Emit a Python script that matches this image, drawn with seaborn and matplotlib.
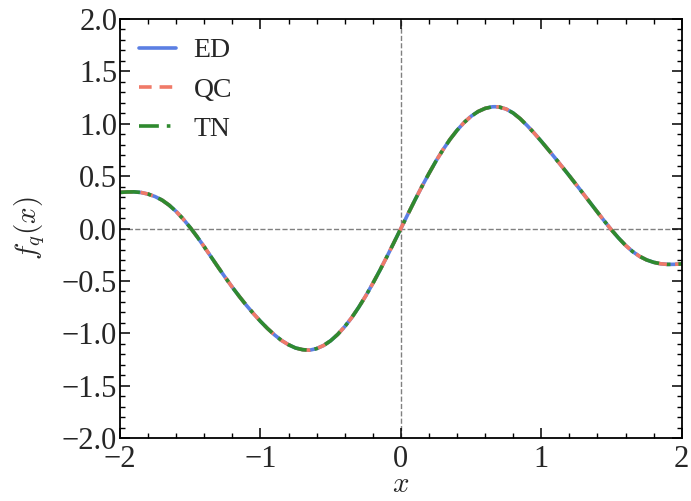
import numpy as np
import pandas as pd
import matplotlib
matplotlib.use("Agg")
import matplotlib.pyplot as plt
import seaborn as sns

# values
x_vals = [-2.0, -1.95, -1.9, -1.85, -1.8, -1.75, -1.7, -1.65, -1.6, -1.55, -1.5, -1.45,
          -1.4, -1.35, -1.3, -1.25, -1.2, -1.15, -1.1, -1.05, -1.0, -0.95, -0.9, -0.85,
          -0.8, -0.75, -0.7, -0.65, -0.6, -0.55, -0.5, -0.45, -0.4, -0.35, -0.3, -0.25,
          -0.2, -0.15, -0.1, -0.05, 0.0,
          0.05, 0.1, 0.15, 0.2, 0.25, 0.3, 0.35, 0.4, 0.45, 0.5, 0.55, 0.6, 0.65, 0.67,
          0.7, 0.75, 0.8, 0.85, 0.9, 0.95, 1.0, 1.05, 1.1, 1.15, 1.2, 1.25, 1.3, 1.35,
          1.4, 1.45, 1.5, 1.55, 1.6, 1.65, 1.7, 1.75, 1.8, 1.85, 1.9, 1.95, 2.0]
f_vals = [0.344, 0.348, 0.349, 0.343, 0.328, 0.304, 0.270, 0.222, 0.162, 0.090, 0.009, -0.080,
          -0.175, -0.273, -0.371, -0.467, -0.560, -0.648, -0.732, -0.810, -0.884, -0.952, -1.013, -1.066,
          -1.107, -1.138, -1.154, -1.159, -1.144, -1.114, -1.069, -1.009, -0.935, -0.849, -0.750, -0.642,
          -0.524, -0.400, -0.270, -0.136, 0.0,
          0.136, 0.270, 0.400, 0.524, 0.642, 0.750, 0.849, 0.935, 1.009, 1.069, 1.114, 1.144, 1.159, 1.160,
          1.157, 1.138, 1.100, 1.046, 0.980, 0.908, 0.831, 0.751, 0.669, 0.586, 0.502, 0.416, 0.330, 0.243,
          0.156, 0.070, -0.013, -0.090, -0.160, -0.219, -0.265, -0.299, -0.322, -0.336, -0.342, -0.341, -0.337]
methods = ["ED", "QC", "TN"]
colors = ["#5b7fe3", "#f07a68", "#2f8a2f"]
x_ticks = [-2, -1, 0, 1, 2]
y_ticks = [-2.0, -1.5, -1.0, -0.5, 0.0, 0.5, 1.0, 1.5, 2.0]

sns.set_theme(style="white")
plt.rcParams["font.family"] = ["Liberation Serif", "DejaVu Serif"]
plt.rcParams["mathtext.fontset"] = "cm"
plt.rcParams["axes.unicode_minus"] = True

fig = plt.figure(figsize=(6.91, 5.01), dpi=100)
ax = fig.add_axes([0.1737, 0.1248, 0.8128, 0.8382])

df = pd.DataFrame({"x": x_vals, "f": f_vals})
styles = [dict(linestyle="-"),
          dict(dashes=(3.5, 2.2)),
          dict(dashes=(5.5, 2.2, 1, 2.2))]
for m, c, st in zip(methods, colors, styles):
    sns.lineplot(data=df, x="x", y="f", ax=ax, color=c, linewidth=2.6, label=m,
                 sort=False, **st)

ax.axhline(0, color="gray", linestyle="--", linewidth=1.0, zorder=0)
ax.axvline(0, color="gray", linestyle="--", linewidth=1.0, zorder=0)

ax.set_xlim(-2, 2)
ax.set_ylim(-2, 2)
ax.set_xticks(x_ticks)
ax.set_xticklabels([f"{t}" if t >= 0 else f"\u2212{abs(t)}" for t in x_ticks])
ax.set_yticks(y_ticks)
ax.set_yticklabels([f"{t:.1f}" if t >= 0 else f"\u2212{abs(t):.1f}" for t in y_ticks])
ax.xaxis.set_minor_locator(matplotlib.ticker.MultipleLocator(0.2))
ax.yaxis.set_minor_locator(matplotlib.ticker.MultipleLocator(0.1))
ax.tick_params(which="both", direction="in", top=True, right=True, bottom=True, left=True,
               labelsize=22, color="black")
ax.tick_params(axis="x", which="major", pad=5)
ax.tick_params(axis="y", which="major", pad=2)
ax.tick_params(which="major", length=7, width=1.1)
ax.tick_params(which="minor", length=3.5, width=1.0)
for s in ax.spines.values():
    s.set_color("black")
    s.set_linewidth(1.3)

ax.set_xlabel("$x$", fontsize=21, labelpad=-2)
ax.set_ylabel("$f_q(x)$", fontsize=21, labelpad=11)

leg = ax.legend(loc="upper left", frameon=False, fontsize=20, handlelength=1.3,
                labelspacing=0.5, borderaxespad=0.3, handletextpad=0.65)

fig.savefig("out.png", dpi=100)
